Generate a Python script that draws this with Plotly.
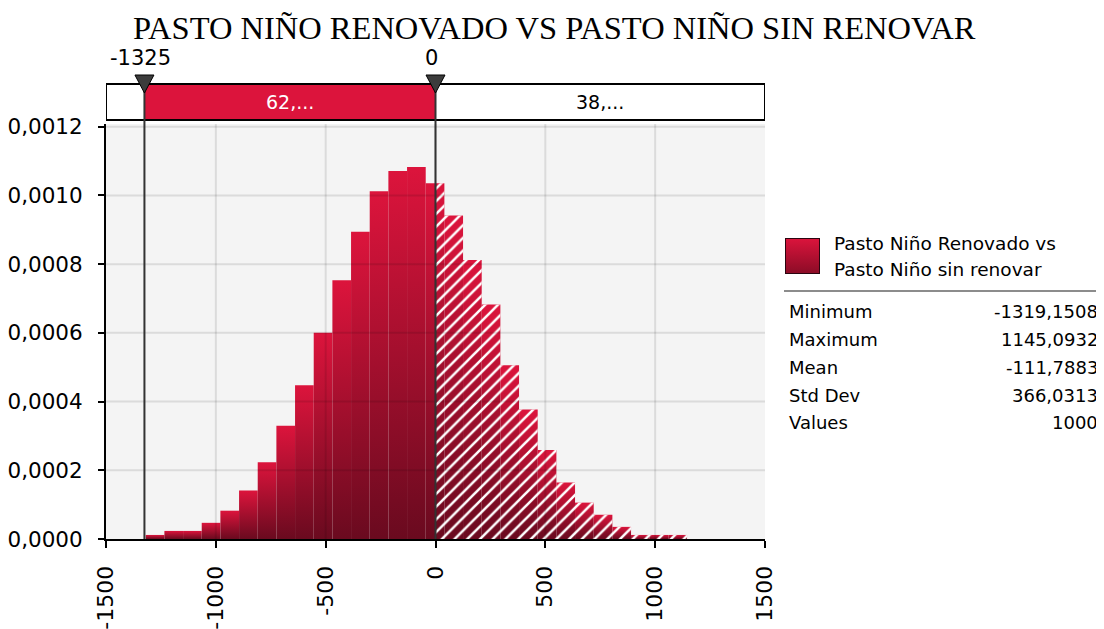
import numpy as np
import plotly.graph_objects as go

# ---------------- data ----------------
title_text = "PASTO NIÑO RENOVADO VS PASTO NIÑO SIN RENOVAR"
series_lines = ["Pasto Niño Renovado vs", "Pasto Niño sin renovar"]

data_min = -1319.1508
data_max = 1145.0932
n_bins = 29
densities = [0.0000118, 0.0000235, 0.0000235, 0.0000471, 0.0000824, 0.0001412,
             0.0002236, 0.0003295, 0.0004472, 0.0006002, 0.0007532, 0.0008944,
             0.0010121, 0.0010709, 0.0010827, 0.0010356, 0.0009415, 0.0008120,
             0.0006826, 0.0005060, 0.0003766, 0.0002589, 0.0001648, 0.0001059,
             0.0000706, 0.0000353, 0.0000118, 0.0000118, 0.0000118]

cutoffs = [-1325, 0]
cutoff_labels = ["-1325", "0"]
band_labels = ["62,...", "38,..."]

stat_names = ["Minimum", "Maximum", "Mean", "Std Dev", "Values"]
stat_values = ["-1319,1508", "1145,0932", "-111,7883", "366,0313", "1000"]

x_tickvals = [-1500, -1000, -500, 0, 500, 1000, 1500]
x_ticktext = ["-1500", "-1000", "-500", "0", "500", "1000", "1500"]
y_tickvals = [0, 0.0002, 0.0004, 0.0006, 0.0008, 0.0010, 0.0012]
y_ticktext = ["0,0000", "0,0002", "0,0004", "0,0006", "0,0008", "0,0010", "0,0012"]

# ---------------- layout helpers ----------------
# the page places the figure 8 px from the window's top-left corner
OFF = 8
W, H = 1104 - OFF, 629 - OFF
def PX(x):
    return (x - OFF) / W
def PY(y):
    return 1 - (y - OFF) / H

SANS = "DejaVu Sans"
CRIMSON = "#DC143C"
DARK = "#6A0A1F"
GRAD = [[0, DARK], [1, CRIMSON]]

edges = np.linspace(data_min, data_max, n_bins + 1)
dens = np.array(densities)

fig = go.Figure()

# gradient bars
for i in range(n_bins):
    x0, x1, d = edges[i], edges[i + 1], dens[i]
    fig.add_trace(go.Scatter(
        x=[x0, x1, x1, x0, x0], y=[0, 0, d, d, 0],
        mode="lines", fill="toself", line=dict(width=0),
        fillgradient=dict(type="vertical", colorscale=GRAD),
        hoverinfo="skip", showlegend=False))

# hatched overlay for the region right of the upper cutoff
hx, hy = [cutoffs[1]], [0]
for i in range(n_bins):
    if edges[i + 1] <= cutoffs[1]:
        continue
    left = max(edges[i], cutoffs[1])
    hx += [left, edges[i + 1]]
    hy += [dens[i], dens[i]]
hx += [edges[-1], cutoffs[1]]
hy += [0, 0]
fig.add_trace(go.Scatter(
    x=hx, y=hy, mode="lines", fill="toself", line=dict(width=0),
    fillcolor="rgba(0,0,0,0)",
    fillpattern=dict(shape="/", fgcolor="white", bgcolor="rgba(0,0,0,0)",
                     size=9, solidity=0.28, fillmode="replace"),
    hoverinfo="skip", showlegend=False))

# legend key (gradient swatch) on its own small hidden axes
fig.add_trace(go.Scatter(
    x=[0, 1, 1, 0, 0], y=[0, 0, 1, 1, 0], xaxis="x2", yaxis="y2",
    mode="lines", fill="toself", line=dict(color="#2B0510", width=2),
    fillgradient=dict(type="vertical", colorscale=[[0, "#8A0C26"], [1, CRIMSON]]),
    hoverinfo="skip", showlegend=False))

shapes = []
# gridlines drawn above the bars (semi-transparent)
for xv in x_tickvals[1:-1]:
    shapes.append(dict(type="line", xref="x", yref="y domain", x0=xv, x1=xv, y0=0, y1=1,
                       line=dict(color="rgba(0,0,0,0.10)", width=2), layer="above"))
for yv in y_tickvals[1:]:
    shapes.append(dict(type="line", xref="x domain", yref="y", x0=0, x1=1, y0=yv, y1=yv,
                       line=dict(color="rgba(0,0,0,0.10)", width=2), layer="above"))

# top band
band_y0, band_y1 = PY(120), PY(84)
shapes.append(dict(type="rect", xref="x", yref="paper", x0=x_tickvals[0], x1=x_tickvals[-1],
                   y0=band_y0, y1=band_y1, fillcolor="white", line=dict(width=0)))
shapes.append(dict(type="rect", xref="x", yref="paper", x0=cutoffs[0], x1=cutoffs[1],
                   y0=band_y0, y1=band_y1, fillcolor=CRIMSON, line=dict(width=0)))
shapes.append(dict(type="rect", xref="x", yref="paper", x0=x_tickvals[0], x1=x_tickvals[-1],
                   y0=band_y0, y1=band_y1, fillcolor="rgba(0,0,0,0)",
                   line=dict(color="black", width=2)))
# cutoff lines + triangles
for c in cutoffs:
    shapes.append(dict(type="line", xref="x", yref="paper", x0=c, x1=c,
                       y0=PY(539), y1=band_y1, line=dict(color="#333333", width=2), layer="above"))
    shapes.append(dict(type="path", xref="x", yref="paper", xsizemode="pixel", ysizemode="pixel",
                       xanchor=c, yanchor=PY(75), path="M -9.5,0 L 9.5,0 L 0,-18 Z",
                       fillcolor="#3C3C3C", line=dict(color="black", width=1), layer="above"))

# separator line under the legend
shapes.append(dict(type="line", xref="paper", yref="paper", x0=PX(784), x1=1.0,
                   y0=PY(291), y1=PY(291), line=dict(color="#8C8C8C", width=2)))

annotations = []
annotations.append(dict(text=title_text, xref="paper", yref="paper", x=PX(554), y=PY(28),
                        xanchor="center", yanchor="middle", showarrow=False,
                        font=dict(family="Liberation Serif", size=32.5, color="black")))
for c, lab in zip(cutoffs, cutoff_labels):
    annotations.append(dict(text=lab, xref="x", yref="paper", x=c, y=PY(58), xanchor="center",
                            yanchor="middle", showarrow=False, xshift=-4,
                            font=dict(family=SANS, size=21, color="black")))
annotations.append(dict(text=band_labels[0], xref="x", yref="paper",
                        x=(cutoffs[0] + cutoffs[1]) / 2, y=PY(102), xanchor="center",
                        yanchor="middle", showarrow=False,
                        font=dict(family=SANS, size=19, color="white")))
annotations.append(dict(text=band_labels[1], xref="x", yref="paper",
                        x=(cutoffs[1] + x_tickvals[-1]) / 2, y=PY(102), xanchor="center",
                        yanchor="middle", showarrow=False,
                        font=dict(family=SANS, size=19, color="black")))
for k, line in enumerate(series_lines):
    annotations.append(dict(text=line, xref="paper", yref="paper", x=PX(832), y=PY(243 + 26 * k),
                            xanchor="left", yanchor="middle", showarrow=False,
                            font=dict(family=SANS, size=18.5, color="black")))
for k, (nm, val) in enumerate(zip(stat_names, stat_values)):
    yy = PY(312 + 27.7 * k)
    annotations.append(dict(text=nm, xref="paper", yref="paper", x=PX(787), y=yy,
                            xanchor="left", yanchor="middle", showarrow=False,
                            font=dict(family=SANS, size=18, color="black")))
    annotations.append(dict(text=val, xref="paper", yref="paper", x=PX(1100), y=yy,
                            xanchor="right", yanchor="middle", showarrow=False,
                            font=dict(family=SANS, size=18, color="black")))

fig.update_layout(
    width=W, height=H, margin=dict(l=0, r=0, t=0, b=0, autoexpand=False),
    paper_bgcolor="white", plot_bgcolor="#F4F4F4",
    showlegend=False, shapes=shapes, annotations=annotations,
    xaxis=dict(domain=[PX(106), PX(765)], range=[x_tickvals[0], x_tickvals[-1]],
               automargin=False,
               showgrid=False, zeroline=False, showline=True, linecolor="black", linewidth=2,
               ticks="outside", ticklen=7, tickwidth=2, tickcolor="black",
               tickvals=x_tickvals, ticktext=x_ticktext, tickangle=-90,
               ticklabelstandoff=9,
               tickfont=dict(family=SANS, size=22, color="black")),
    yaxis=dict(domain=[PY(539), PY(124)], range=[0, 0.001208],
               automargin=False,
               showgrid=False, zeroline=False, showline=True, linecolor="black", linewidth=2,
               ticks="outside", ticklen=6, tickwidth=2, tickcolor="black",
               tickvals=y_tickvals, ticktext=y_ticktext, ticklabelstandoff=11,
               tickfont=dict(family=SANS, size=21.5, color="black")),
    xaxis2=dict(domain=[PX(785), PX(820)], range=[0, 1], visible=False, anchor="y2",
                fixedrange=True),
    yaxis2=dict(domain=[PY(274), PY(238)], range=[0, 1], visible=False, anchor="x2",
                fixedrange=True),
)

fig.write_html("out.html")
